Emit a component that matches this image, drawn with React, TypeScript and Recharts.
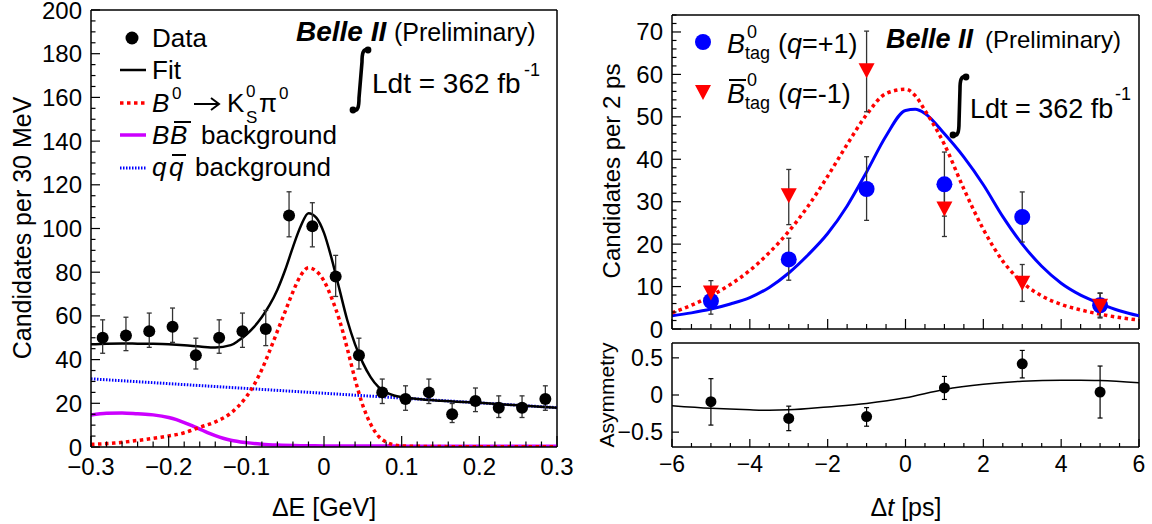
import React from "react";
import {
  ComposedChart,
  Line,
  Scatter,
  XAxis,
  YAxis,
  ErrorBar,
  ReferenceLine,
} from "recharts";

const FONT = "'Liberation Sans', Arial, Helvetica, sans-serif";

// ---------- left panel: Delta E fit ----------
const deBins = [
  -0.285, -0.255, -0.225, -0.195, -0.165, -0.135, -0.105, -0.075, -0.045, -0.015,
  0.015, 0.045, 0.075, 0.105, 0.135, 0.165, 0.195, 0.225, 0.255, 0.285,
];
const deCounts = [50, 51, 53, 55, 42, 50, 53, 54, 106, 101, 78, 42, 25, 22, 25, 15, 21, 18, 18, 22];
const deErrLo = [7.1, 6.9, 7.4, 7.1, 6.3, 7.1, 7.4, 7.6, 9.8, 9.4, 9.1, 6.3, 5.1, 5.2, 5.1, 3.8, 4.8, 4.5, 4.5, 5.2];
const deErrHi = [8.2, 8.4, 8.3, 8.6, 7.8, 8.2, 8.3, 8.5, 10.8, 10.8, 9.7, 7.8, 6.1, 6.0, 6.1, 4.9, 6.0, 5.4, 5.4, 6.0];

const fitX = [
  -0.3, -0.28, -0.26, -0.24, -0.22, -0.2, -0.18, -0.16, -0.14, -0.12, -0.11, -0.1, -0.09, -0.08,
  -0.07, -0.06, -0.05, -0.04, -0.03, -0.02, -0.01, 0, 0.01, 0.02, 0.03, 0.04, 0.05, 0.06, 0.07,
  0.08, 0.09, 0.1, 0.12, 0.15, 0.2, 0.25, 0.3,
];
const fitY = [
  47, 47.3, 47.4, 47.3, 47.2, 47, 46.6, 46, 45.5, 46.6, 48.7, 51.5, 55, 59.5, 65, 72, 81, 91.5,
  101, 107, 105, 98, 86, 72, 58, 47, 38.5, 32, 27.5, 25, 23.6, 22.8, 22, 21.2, 20.2, 19.1, 18,
];

const sigX = [
  -0.3, -0.27, -0.24, -0.21, -0.18, -0.16, -0.14, -0.12, -0.1, -0.09, -0.08, -0.07, -0.06, -0.05,
  -0.04, -0.03, -0.02, -0.01, 0, 0.01, 0.02, 0.03, 0.04, 0.05, 0.06, 0.07, 0.08, 0.09, 0.1, 0.15,
  0.2, 0.3,
];
const sigY = [
  1.2, 1.8, 3, 4.5, 6.5, 9, 11.5, 15.5, 23, 28.5, 35.5, 44, 53, 62, 71, 78.5, 82, 80.5, 76, 68,
  58, 45, 31, 19, 10.5, 5, 2.3, 1, 0.5, 0.2, 0.1, 0.1,
];

const bbX = [
  -0.3, -0.28, -0.26, -0.24, -0.22, -0.2, -0.19, -0.18, -0.17, -0.16, -0.15, -0.14, -0.13, -0.12,
  -0.1, -0.08, -0.06, -0.03, 0, 0.1, 0.2, 0.3,
];
const bbY = [
  14.6, 15.4, 15.6, 15.2, 14.7, 13.5, 12.5, 11.2, 9.8, 8.2, 6.6, 5.2, 4.0, 3.1, 2.0, 1.3, 0.9,
  0.6, 0.5, 0.4, 0.35, 0.3,
];

const qqX = [-0.3, -0.2, -0.1, 0, 0.1, 0.2, 0.3];
const qqY = [31.2, 29, 26.8, 24.6, 22.4, 20.2, 18];

// ---------- right panel: Delta t ----------
const dtBins = [-5, -3, -1, 1, 3, 5];
const bTagY = [6.6, 16.4, 33, 34.1, 26.4, 5.6];
const bTagErrLo = [3.1, 4.9, 7.4, 7.5, 5.9, 2.8];
const bTagErrHi = [3.2, 5.0, 7.6, 7.6, 5.9, 2.9];
const bbarTagY = [8.6, 31.5, 61, 28.4, 10.9, 5.5];
const bbarTagErrLo = [2.9, 6.9, 9.8, 6.6, 4.4, 2.9];
const bbarTagErrHi = [2.8, 6.1, 9.2, 6.5, 4.3, 2.9];

const dtX = [
  -6, -5.5, -5, -4.5, -4, -3.5, -3, -2.5, -2, -1.5, -1, -0.5, 0, 0.25, 0.5, 1, 1.5, 2, 2.5, 3,
  3.5, 4, 4.5, 5, 5.5, 6,
];
const bTagFit = [
  3.1, 3.8, 4.7, 5.9, 7.4, 9.8, 13.2, 17.5, 22.5, 29, 37, 45.5, 51.5, 51.8, 50.8, 46, 40.5,
  34, 26.5, 20, 14.8, 10.8, 8, 6, 4.3, 3.1,
];
const bbarTagFit = [
  3.8, 5.6, 7.8, 10.5, 13.8, 18, 23, 29, 36, 43.5, 50.5, 55.5, 56.5, 55, 51.5, 43.5, 33, 23.5,
  16, 11, 7.8, 5.8, 4.5, 3.5, 2.7, 2.1,
];

const asymY = [-0.09, -0.315, -0.29, 0.095, 0.42, 0.04];
const asymErrLo = [0.315, 0.165, 0.13, 0.155, 0.19, 0.35];
const asymErrHi = [0.31, 0.165, 0.12, 0.155, 0.18, 0.35];
const asymFitX = [-6, -5, -4, -3.5, -3, -2, -1, 0, 1, 2, 3, 4, 4.5, 5, 6];
const asymFitY = [
  -0.145, -0.18, -0.2, -0.205, -0.2, -0.16, -0.113, -0.037, 0.075, 0.144, 0.185, 0.2, 0.2, 0.195,
  0.165,
];

// ---------- helpers ----------
const rows = (xs: number[], ys: number[]) => xs.map((x, i) => ({ x, y: ys[i] }));
const errRows = (xs: number[], ys: number[], lo: number[], hi: number[]) =>
  xs.map((x, i) => ({ x, y: ys[i], err: [lo[i], hi[i]] }));

const tickRange = (a: number, b: number, step: number) => {
  const out: number[] = [];
  const n = Math.round((b - a) / step);
  for (let i = 0; i <= n; i++) out.push(+(a + i * step).toFixed(6));
  return out;
};
const isMajor = (v: number, step: number) => Math.abs(v / step - Math.round(v / step)) < 1e-6;
const minus = (s: string, v: number) => (v < -1e-9 ? "\u2212" : "") + s;
const fmt1 = (v: number) => minus(Math.abs(v) < 1e-9 ? "0" : Math.abs(v).toFixed(1), v);
const fmt0 = (v: number) => minus(String(Math.abs(Math.round(v))), v);
const fmtAsym = (v: number) => minus(Math.abs(v) < 1e-9 ? "0" : String(Math.abs(v)), v);

type TickCfg = {
  step: number;
  major: number;
  minor: number;
  fmt?: (v: number) => string;
  size?: number;
  dy?: number;
};

const bottomTick = (cfg: TickCfg) => (p: any) => {
  const v = p.payload.value;
  const maj = isMajor(v, cfg.step);
  return (
    <g>
      <line x1={p.x} y1={p.y} x2={p.x} y2={p.y - (maj ? cfg.major : cfg.minor)} stroke="#000" strokeWidth={1.2} />
      {maj && cfg.fmt && (
        <text x={p.x} y={p.y + (cfg.dy || 0)} textAnchor="middle" fontSize={cfg.size} fontFamily={FONT} fill="#000">
          {cfg.fmt(v)}
        </text>
      )}
    </g>
  );
};

const leftTick = (cfg: TickCfg) => (p: any) => {
  const v = p.payload.value;
  const maj = isMajor(v, cfg.step);
  return (
    <g>
      <line x1={p.x} y1={p.y} x2={p.x + (maj ? cfg.major : cfg.minor)} y2={p.y} stroke="#000" strokeWidth={1.2} />
      {maj && cfg.fmt && (
        <text x={p.x - 9} y={p.y + (cfg.dy || 0)} textAnchor="end" fontSize={cfg.size} fontFamily={FONT} fill="#000">
          {cfg.fmt(v)}
        </text>
      )}
    </g>
  );
};

const dotShape = (r: number, fill: string) => (p: any) => <circle cx={p.cx} cy={p.cy} r={r} fill={fill} />;
const triShape = (p: any) => (
  <path d={`M${p.cx - 8},${p.cy - 7} L${p.cx + 8},${p.cy - 7} L${p.cx},${p.cy + 8} Z`} fill="#ff0000" />
);

// integral sign drawn as a path, top end (xt, yt), bottom end (xb, yb)
const integral = (xt: number, yt: number, xb: number, yb: number) => (
  <g>
    <path
      d={`M${xb},${yb} C${xb + 5},${yb + 2} ${xb + 6},${yb - 4} ${xb + 6},${yb - 12} L${xt - 6},${yt + 12} C${xt - 6},${yt + 4} ${xt - 5},${yt - 2} ${xt},${yt}`}
      stroke="#000"
      strokeWidth={3.6}
      fill="none"
    />
    <circle cx={xt} cy={yt} r={3.4} fill="#000" />
    <circle cx={xb} cy={yb} r={3.4} fill="#000" />
  </g>
);

const T = (p: any) => <text fontFamily={FONT} fill="#000" {...p} />;

const axisLine = { stroke: "#000", strokeWidth: 1.5 };

const App = () => {
  const deData = errRows(deBins, deCounts, deErrLo, deErrHi);
  const bData = errRows(dtBins, bTagY, bTagErrLo, bTagErrHi);
  const bbarData = errRows(dtBins, bbarTagY, bbarTagErrLo, bbarTagErrHi);
  const asymData = errRows(dtBins, asymY, asymErrLo, asymErrHi);

  return (
    <div style={{ position: "relative", width: 1152, height: 524, background: "#fff", fontFamily: FONT }}>
      <style>{"body{margin:0}"}</style>

      {/* left: Delta E */}
      <div style={{ position: "absolute", left: 0, top: 0 }}>
        <ComposedChart width={580} height={524} margin={{ top: 10, right: 23, bottom: 47, left: 31 }}>
          <XAxis
            type="number"
            dataKey="x"
            domain={[-0.3, 0.3]}
            allowDataOverflow
            ticks={tickRange(-0.3, 0.3, 0.02)}
            interval={0}
            tickLine={false}
            tickSize={0}
            tickMargin={0}
            axisLine={axisLine}
            tick={bottomTick({ step: 0.1, major: 11, minor: 5.5, fmt: fmt1, size: 24, dy: 28 })}
          />
          <YAxis
            type="number"
            dataKey="y"
            domain={[0, 200]}
            allowDataOverflow
            ticks={tickRange(0, 200, 5)}
            interval={0}
            tickLine={false}
            tickSize={0}
            tickMargin={0}
            axisLine={axisLine}
            tick={leftTick({ step: 20, major: 9, minor: 4.5, fmt: fmt0, size: 24, dy: 8.5 })}
          />
          <ReferenceLine y={200} stroke="#000" strokeWidth={1.5} />
          <ReferenceLine x={0.3} stroke="#000" strokeWidth={1.5} />
          <Line data={rows(qqX, qqY)} dataKey="y" type="linear" stroke="#0000ff" strokeWidth={3} strokeDasharray="1.5 1.5" dot={false} isAnimationActive={false} />
          <Line data={rows(bbX, bbY)} dataKey="y" type="monotone" stroke="#cc00ff" strokeWidth={3.5} dot={false} isAnimationActive={false} />
          <Line data={rows(sigX, sigY)} dataKey="y" type="monotone" stroke="#ff0000" strokeWidth={3.5} strokeDasharray="3.5 3.5" dot={false} isAnimationActive={false} />
          <Line data={rows(fitX, fitY)} dataKey="y" type="monotone" stroke="#000" strokeWidth={2.5} dot={false} isAnimationActive={false} />
          <Scatter data={deData} dataKey="y" shape={dotShape(6, "#000")} isAnimationActive={false}>
            <ErrorBar dataKey="err" direction="y" width={2.5} stroke="#333" strokeWidth={1.3} isAnimationActive={false} />
          </Scatter>
        </ComposedChart>
      </div>

      {/* right top: Delta t distributions */}
      <div style={{ position: "absolute", left: 580, top: 0 }}>
        <ComposedChart width={572} height={524} margin={{ top: 15, right: 13, bottom: 165, left: 32 }}>
          <XAxis
            type="number"
            dataKey="x"
            domain={[-6, 6]}
            allowDataOverflow
            ticks={tickRange(-6, 6, 0.5)}
            interval={0}
            tickLine={false}
            tickSize={0}
            tickMargin={0}
            axisLine={axisLine}
            tick={bottomTick({ step: 2, major: 10, minor: 5 })}
          />
          <YAxis
            type="number"
            dataKey="y"
            domain={[0, 74]}
            allowDataOverflow
            ticks={tickRange(0, 74, 2)}
            interval={0}
            tickLine={false}
            tickSize={0}
            tickMargin={0}
            axisLine={axisLine}
            tick={leftTick({ step: 10, major: 9, minor: 4.5, fmt: fmt0, size: 24, dy: 8.5 })}
          />
          <ReferenceLine y={74} stroke="#000" strokeWidth={1.5} />
          <ReferenceLine x={6} stroke="#000" strokeWidth={1.5} />
          <Line data={rows(dtX, bTagFit)} dataKey="y" type="monotone" stroke="#0000ff" strokeWidth={3} dot={false} isAnimationActive={false} />
          <Line data={rows(dtX, bbarTagFit)} dataKey="y" type="monotone" stroke="#ff0000" strokeWidth={3.5} strokeDasharray="3.5 3.5" dot={false} isAnimationActive={false} />
          <Scatter data={bData} dataKey="y" shape={dotShape(8, "#0000ff")} isAnimationActive={false}>
            <ErrorBar dataKey="err" direction="y" width={2.5} stroke="#333" strokeWidth={1.3} isAnimationActive={false} />
          </Scatter>
          <Scatter data={bbarData} dataKey="y" shape={triShape} isAnimationActive={false}>
            <ErrorBar dataKey="err" direction="y" width={2.5} stroke="#333" strokeWidth={1.3} isAnimationActive={false} />
          </Scatter>
        </ComposedChart>
      </div>

      {/* right bottom: asymmetry */}
      <div style={{ position: "absolute", left: 580, top: 0 }}>
        <ComposedChart width={572} height={524} margin={{ top: 343, right: 13, bottom: 47, left: 32 }}>
          <XAxis
            type="number"
            dataKey="x"
            domain={[-6, 6]}
            allowDataOverflow
            ticks={tickRange(-6, 6, 0.5)}
            interval={0}
            tickLine={false}
            tickSize={0}
            tickMargin={0}
            axisLine={axisLine}
            tick={bottomTick({ step: 2, major: 8, minor: 4, fmt: fmt0, size: 23, dy: 25 })}
          />
          <YAxis
            type="number"
            dataKey="y"
            domain={[-0.7, 0.7]}
            allowDataOverflow
            ticks={[-0.5, 0, 0.5]}
            interval={0}
            tickLine={false}
            tickSize={0}
            tickMargin={0}
            axisLine={axisLine}
            tick={leftTick({ step: 0.5, major: 7, minor: 3.5, fmt: fmtAsym, size: 23, dy: 8 })}
          />
          <ReferenceLine y={0.7} stroke="#000" strokeWidth={1.5} />
          <ReferenceLine x={6} stroke="#000" strokeWidth={1.5} />
          <Line data={rows(asymFitX, asymFitY)} dataKey="y" type="monotone" stroke="#000" strokeWidth={1.5} dot={false} isAnimationActive={false} />
          <Scatter data={asymData} dataKey="y" shape={dotShape(5.5, "#000")} isAnimationActive={false}>
            <ErrorBar dataKey="err" direction="y" width={2.5} stroke="#000" strokeWidth={1.2} isAnimationActive={false} />
          </Scatter>
        </ComposedChart>
      </div>

      {/* texts, legends, annotations */}
      <svg width={1152} height={524} style={{ position: "absolute", left: 0, top: 0, pointerEvents: "none" }}>
        {/* left axis titles */}
        <T transform="translate(31,228) rotate(-90)" textAnchor="middle" fontSize={25}>
          Candidates per 30 MeV
        </T>
        <T x={324} y={516} textAnchor="middle" fontSize={25}>
          ΔE [GeV]
        </T>

        {/* left legend */}
        <circle cx={132} cy={38} r={6.5} fill="#000" />
        <T x={152} y={47} fontSize={26}>Data</T>
        <line x1={120} y1={70} x2={146} y2={70} stroke="#000" strokeWidth={2.5} />
        <T x={152} y={79} fontSize={26}>Fit</T>
        <line x1={120} y1={103} x2={146} y2={103} stroke="#ff0000" strokeWidth={3.5} strokeDasharray="3.5 3.5" />
        <T x={152} y={112} fontSize={26} fontStyle="italic">B</T>
        <T x={172} y={99} fontSize={17}>0</T>
        <line x1={194} y1={104} x2={218} y2={104} stroke="#000" strokeWidth={2} />
        <path d="M211,98 L219,104 L211,110" stroke="#000" strokeWidth={2} fill="none" />
        <T x={227} y={112} fontSize={26}>K</T>
        <T x={246} y={97} fontSize={17}>0</T>
        <T x={246} y={123} fontSize={17}>S</T>
        <T x={259} y={112} fontSize={26}>π</T>
        <T x={279} y={99} fontSize={17}>0</T>
        <line x1={120} y1={135} x2={146} y2={135} stroke="#cc00ff" strokeWidth={3.5} />
        <T x={152} y={144} fontSize={26} fontStyle="italic">B</T>
        <T x={170} y={144} fontSize={26} fontStyle="italic">B</T>
        <line x1={174} y1={122} x2={191} y2={122} stroke="#000" strokeWidth={2} />
        <T x={201} y={144} fontSize={26}>background</T>
        <line x1={120} y1={168} x2={146} y2={168} stroke="#0000ff" strokeWidth={3} strokeDasharray="1.5 1.5" />
        <T x={152} y={176} fontSize={26} fontStyle="italic">q</T>
        <T x={169} y={176} fontSize={26} fontStyle="italic">q</T>
        <line x1={172} y1={155} x2={186} y2={155} stroke="#000" strokeWidth={2} />
        <T x={195} y={176} fontSize={26}>background</T>

        {/* left annotation */}
        <T x={296} y={41} fontSize={28} fontWeight="bold" fontStyle="italic">Belle II</T>
        <T x={394} y={41} fontSize={25}>(Preliminary)</T>
        {integral(368, 50, 353, 110)}
        <T x={372} y={93} fontSize={28}>Ldt = 362 fb</T>
        <T x={524} y={76} fontSize={18}>-1</T>

        {/* right axis titles */}
        <T transform="translate(620,171) rotate(-90)" textAnchor="middle" fontSize={24}>
          Candidates per 2 ps
        </T>
        <T transform="translate(614,395) rotate(-90)" textAnchor="middle" fontSize={21}>
          Asymmetry
        </T>
        <T x={906} y={516} textAnchor="middle" fontSize={25}>
          Δ<tspan fontStyle="italic">t</tspan> [ps]
        </T>

        {/* right legend */}
        <circle cx={703} cy={42} r={8} fill="#0000ff" />
        <T x={727} y={53} fontSize={27} fontStyle="italic">B</T>
        <T x={747} y={38} fontSize={18}>0</T>
        <T x={745} y={59} fontSize={18}>tag</T>
        <T x={778} y={53} fontSize={27}>
          (<tspan fontStyle="italic">q</tspan>=+1)
        </T>
        <path d="M695,85 L711,85 L703,100 Z" fill="#ff0000" />
        <T x={727} y={103} fontSize={27} fontStyle="italic">B</T>
        <line x1={729} y1={80} x2={746} y2={80} stroke="#000" strokeWidth={2} />
        <T x={747} y={86} fontSize={18}>0</T>
        <T x={745} y={109} fontSize={18}>tag</T>
        <T x={778} y={103} fontSize={27}>
          (<tspan fontStyle="italic">q</tspan>=-1)
        </T>

        {/* right annotation */}
        <T x={886} y={48} fontSize={27} fontWeight="bold" fontStyle="italic">Belle II</T>
        <T x={985} y={48} fontSize={24}>(Preliminary)</T>
        {integral(966, 77, 953, 135)}
        <T x={970} y={118} fontSize={27}>Ldt = 362 fb</T>
        <T x={1115} y={100} fontSize={18}>-1</T>
      </svg>
    </div>
  );
};

export default App;
